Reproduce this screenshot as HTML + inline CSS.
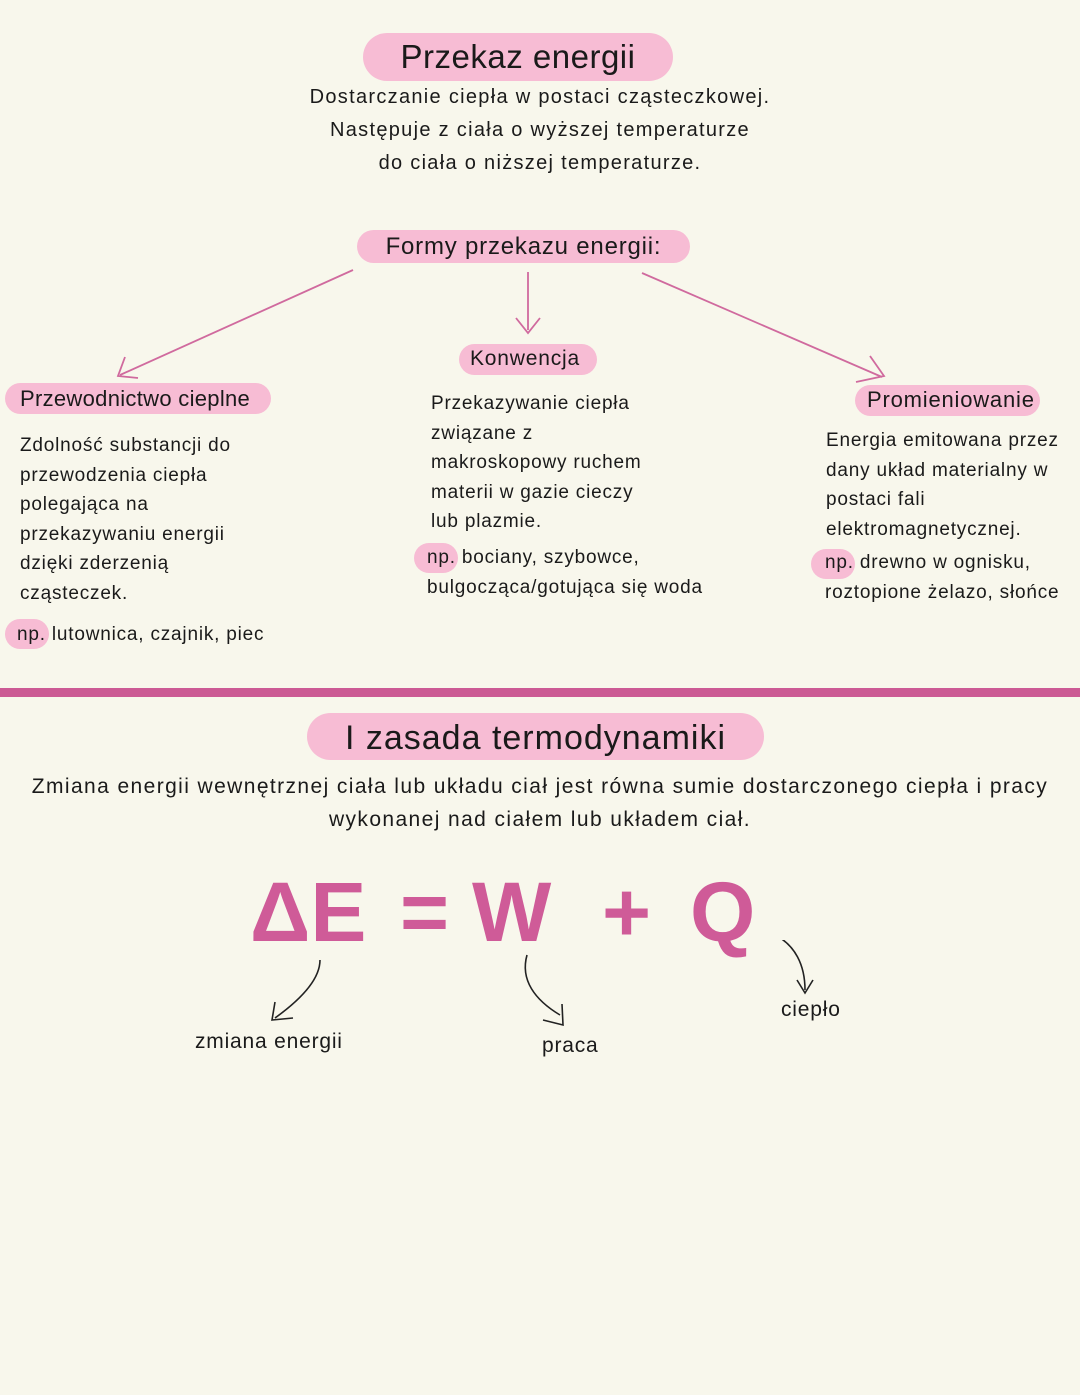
<!DOCTYPE html>
<html><head><meta charset="utf-8"><style>
body{margin:0;width:1080px;height:1395px;background:#f8f7ec;position:relative;font-family:"Liberation Sans",sans-serif;color:#1a1a1a;overflow:hidden}
.a{position:absolute}
.pill{position:absolute;background:#f7bcd4;border-radius:30px}
.t{position:absolute;font-size:19px;line-height:29.5px;white-space:nowrap;letter-spacing:0.8px}
.c{text-align:center}
.eq{position:absolute;font-size:84px;line-height:100px;color:#cf5b98;font-weight:bold;top:862px}
</style></head><body>
<div class="pill" style="left:363px;top:33px;width:310px;height:48px"></div>
<div class="t c" style="left:363px;top:36px;width:310px;font-size:33px;line-height:42px;letter-spacing:0.5px">Przekaz energii</div>
<div class="t c" style="left:200px;top:81px;width:680px;font-size:20px;line-height:33px;letter-spacing:1.3px">Dostarczanie ciepła w postaci cząsteczkowej.<br>Następuje z ciała o wyższej temperaturze<br>do ciała o niższej temperaturze.</div>

<div class="pill" style="left:357px;top:230px;width:333px;height:33px"></div>
<div class="t c" style="left:357px;top:231px;width:333px;font-size:24px;line-height:32px">Formy przekazu energii:</div>

<svg class="a" style="left:0;top:0" width="1080" height="700">
<g stroke="#d06a9e" stroke-width="1.8" fill="none">
<line x1="353" y1="270" x2="120" y2="375"/><path d="M125 357 L118 376 L138 378"/>
<line x1="528" y1="272" x2="528" y2="330"/><path d="M516 318 L528 333 L540 318"/>
<line x1="642" y1="273" x2="882" y2="377"/><path d="M870 356 L884 376 L856 382"/>
</g></svg>

<div class="pill" style="left:5px;top:383px;width:266px;height:31px"></div>
<div class="t" style="left:20px;top:384px;font-size:22px;letter-spacing:0.3px">Przewodnictwo cieplne</div>
<div class="t" style="left:20px;top:431px">Zdolność substancji do<br>przewodzenia ciepła<br>polegająca na<br>przekazywaniu energii<br>dzięki zderzenią<br>cząsteczek.</div>
<div class="pill" style="left:5px;top:619px;width:44px;height:30px"></div>
<div class="t" style="left:17px;top:620px">np. lutownica, czajnik, piec</div>

<div class="pill" style="left:459px;top:344px;width:138px;height:31px"></div>
<div class="t" style="left:470px;top:344px;font-size:21px">Konwencja</div>
<div class="t" style="left:431px;top:389px">Przekazywanie ciepła<br>związane z<br>makroskopowy ruchem<br>materii w gazie cieczy<br>lub plazmie.</div>
<div class="pill" style="left:414px;top:543px;width:44px;height:30px"></div>
<div class="t" style="left:427px;top:543px">np. bociany, szybowce,<br>bulgocząca/gotująca się woda</div>

<div class="pill" style="left:855px;top:385px;width:185px;height:31px"></div>
<div class="t" style="left:867px;top:385px;font-size:22px">Promieniowanie</div>
<div class="t" style="left:826px;top:426px">Energia emitowana przez<br>dany układ materialny w<br>postaci fali<br>elektromagnetycznej.</div>
<div class="pill" style="left:811px;top:549px;width:44px;height:30px"></div>
<div class="t" style="left:825px;top:548px">np. drewno w ognisku,<br>roztopione żelazo, słońce</div>

<div class="a" style="left:0;top:688px;width:1080px;height:9px;background:#cc5a94"></div>

<div class="pill" style="left:307px;top:713px;width:457px;height:47px"></div>
<div class="t c" style="left:307px;top:717px;width:457px;font-size:34px;line-height:42px;letter-spacing:1px">I zasada termodynamiki</div>
<div class="t c" style="left:0;top:770px;width:1080px;font-size:21px;line-height:33px;letter-spacing:1.4px">Zmiana energii wewnętrznej ciała lub układu ciał jest równa sumie dostarczonego ciepła i pracy<br>wykonanej nad ciałem lub układem ciał.</div>

<div class="eq" style="left:250px">ΔE</div>
<div class="eq" style="left:400px">=</div>
<div class="eq" style="left:472px">W</div>
<div class="eq" style="left:602px">+</div>
<div class="eq" style="left:690px">Q</div>

<svg class="a" style="left:0;top:940px" width="1080" height="120">
<g stroke="#222" stroke-width="1.6" fill="none">
<path d="M320 20 C320 40 300 60 275 78"/><path d="M275 62 L272 80 L293 78"/>
<path d="M527 15 C520 40 535 60 560 75"/><path d="M543 80 L563 85 L562 64"/>
<path d="M775 -5 C795 5 805 25 805 50"/><path d="M797 40 L805 53 L813 40"/>
</g></svg>
<div class="t" style="left:195px;top:1027px;font-size:21px">zmiana energii</div>
<div class="t" style="left:542px;top:1031px;font-size:21px">praca</div>
<div class="t" style="left:781px;top:995px;font-size:21px">ciepło</div>
</body></html>
